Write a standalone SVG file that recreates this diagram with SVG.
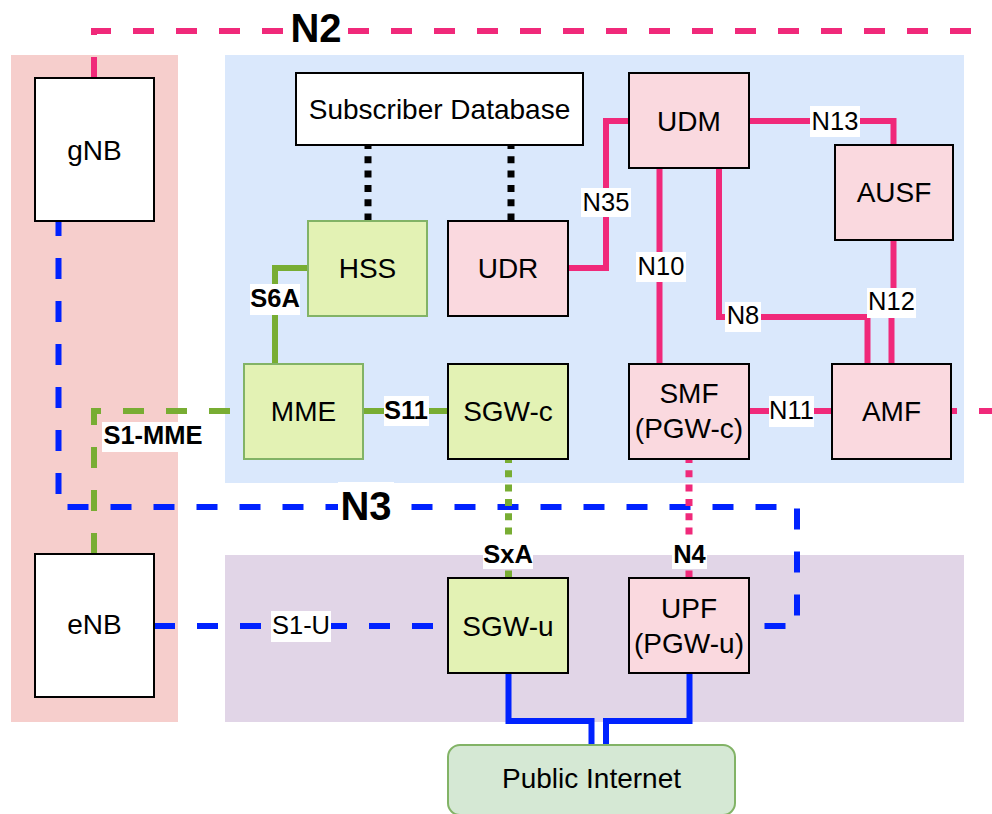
<svg xmlns="http://www.w3.org/2000/svg" width="992" height="814" viewBox="0 0 992 814">
<style>
text{font-family:"Liberation Sans",Arial,sans-serif;fill:#000}
.nt{font-size:28px;text-anchor:middle}
.lb{font-size:25.5px;text-anchor:middle}
.lbb{font-size:25.5px;font-weight:bold;text-anchor:middle}
.big{font-size:40px;font-weight:bold;text-anchor:middle}
.white{fill:#fff;stroke:#000;stroke-width:2}
.pink{fill:#fad9df;stroke:#000;stroke-width:2}
.greenG{fill:#e3f2b4;stroke:#82b366;stroke-width:2}
.greenB{fill:#e3f2b4;stroke:#000;stroke-width:2}
.lbg{fill:#fff}
.c{fill:none;stroke-width:6;stroke-linejoin:miter;stroke-linecap:butt}
.pk{stroke:#f0297a}
.bl{stroke:#0022ff}
.gr{stroke:#78ad33}
.bk{stroke:#000}
.dash{stroke-dasharray:21 22}
.dot{stroke-dasharray:7 7.3;stroke-dashoffset:3;stroke-width:7}
</style>
<g id="panels">
<rect x="11" y="55" width="167" height="667" fill="#f6cecc"/>
<rect x="225" y="55" width="739" height="428" fill="#dae8fc"/>
<rect x="225" y="555" width="739" height="167" fill="#e1d5e7"/>
</g>
<g id="connectors">
<path class="c pk dash" d="M94,78 V31 H992"/>
<path class="c pk dash" d="M951,411 H992" style="stroke-dashoffset:15"/>
<path class="c bl dash" d="M58.5,221 V507 H797 V626 H749" style="stroke-dashoffset:6"/>
<path class="c gr dash" d="M94,554 V411 H244"/>
<path class="c bl dash" d="M154,626 H448"/>
<path class="c bk dot" d="M368,145 V221"/>
<path class="c bk dot" d="M511,145 V221"/>
<path class="c gr" d="M308,268 H275 V364"/>
<path class="c gr" d="M363,411 H448"/>
<path class="c gr dot" d="M508.5,459 V578"/>
<path class="c pk dot" d="M689,459 V578"/>
<path class="c pk" d="M568,268 H606 V121 H629"/>
<path class="c pk" d="M659.5,168 V364"/>
<path class="c pk" d="M719,168 V317 H867.5 V364"/>
<path class="c pk" d="M893.5,240 V303 H891.5 V364"/>
<path class="c pk" d="M749,121 H893.5 V145"/>
<path class="c pk" d="M749,411 H832"/>
<path class="c bl" d="M508.5,673 V721 H591.5 V745"/>
<path class="c bl" d="M689.5,673 V721 H606 V745"/>
<g id="labels">
<rect class="lbg" x="283" y="10" width="64" height="40"/>
<text class="big" x="316" y="42">N2</text>
<rect class="lbg" x="338" y="482" width="56" height="48"/>
<text class="big" x="366" y="520">N3</text>
<rect class="lbg" x="250" y="284" width="50" height="31"/>
<text class="lbb" x="275" y="307">S6A</text>
<rect class="lbg" x="102" y="422" width="103" height="30"/>
<text class="lbb" x="153" y="444">S1-MME</text>
<rect class="lbg" x="384" y="396" width="45" height="30"/>
<text class="lbb" x="406" y="419">S11</text>
<rect class="lbg" x="483" y="540" width="50" height="29"/>
<text class="lbb" x="508" y="563">SxA</text>
<rect class="lbg" x="672" y="540" width="35" height="29"/>
<text class="lbb" x="689.5" y="563">N4</text>
<rect class="lbg" x="271" y="611" width="60" height="31"/>
<text class="lb" x="301" y="634">S1-U</text>
<rect class="lbg" x="581" y="188" width="50" height="29"/>
<text class="lb" x="606" y="211">N35</text>
<rect class="lbg" x="636" y="252" width="50" height="30"/>
<text class="lb" x="661" y="275">N10</text>
<rect class="lbg" x="725" y="302" width="36" height="30"/>
<text class="lb" x="743" y="324">N8</text>
<rect class="lbg" x="867" y="288" width="49" height="30"/>
<text class="lb" x="891.5" y="310">N12</text>
<rect class="lbg" x="810" y="106" width="50" height="31"/>
<text class="lb" x="835" y="130">N13</text>
<rect class="lbg" x="769" y="396" width="45" height="31"/>
<text class="lb" x="791.5" y="419">N11</text>
</g>
</g>
<g id="gNB"><rect class="white" x="35" y="78" width="119" height="143"/><text class="nt" x="94.5" y="159.5">gNB</text></g>
<g id="eNB"><rect class="white" x="35" y="554" width="119" height="143"/><text class="nt" x="94.5" y="634">eNB</text></g>
<g id="SubscriberDatabase"><rect class="white" x="296" y="73" width="287" height="72"/><text class="nt" x="439.5" y="118.5">Subscriber Database</text></g>
<g id="UDM"><rect class="pink" x="629" y="73" width="120" height="95"/><text class="nt" x="689" y="130.5">UDM</text></g>
<g id="AUSF"><rect class="pink" x="835" y="145" width="118" height="95"/><text class="nt" x="894" y="202">AUSF</text></g>
<g id="HSS"><rect class="greenG" x="308" y="221" width="119" height="95"/><text class="nt" x="367.5" y="278">HSS</text></g>
<g id="UDR"><rect class="pink" x="448" y="221" width="120" height="95"/><text class="nt" x="508" y="278">UDR</text></g>
<g id="MME"><rect class="greenG" x="244" y="364" width="119" height="95"/><text class="nt" x="303.5" y="421">MME</text></g>
<g id="SGW-c"><rect class="greenB" x="448" y="364" width="120" height="95"/><text class="nt" x="508" y="421">SGW-c</text></g>
<g id="SMF"><rect class="pink" x="629" y="364" width="120" height="95"/><text class="nt" x="689" y="403">SMF</text><text class="nt" x="689" y="438">(PGW-c)</text></g>
<g id="AMF"><rect class="pink" x="832" y="364" width="119" height="95"/><text class="nt" x="891.5" y="421">AMF</text></g>
<g id="SGW-u"><rect class="greenB" x="448" y="578" width="120" height="95"/><text class="nt" x="508" y="635.5">SGW-u</text></g>
<g id="UPF"><rect class="pink" x="629" y="578" width="120" height="95"/><text class="nt" x="689" y="618">UPF</text><text class="nt" x="689" y="653">(PGW-u)</text></g>
<g id="PublicInternet"><rect x="448" y="745" width="287" height="70" rx="12" fill="#d5e8d4" stroke="#82b366" stroke-width="2"/><text class="nt" x="591.5" y="788">Public Internet</text></g>
</svg>
